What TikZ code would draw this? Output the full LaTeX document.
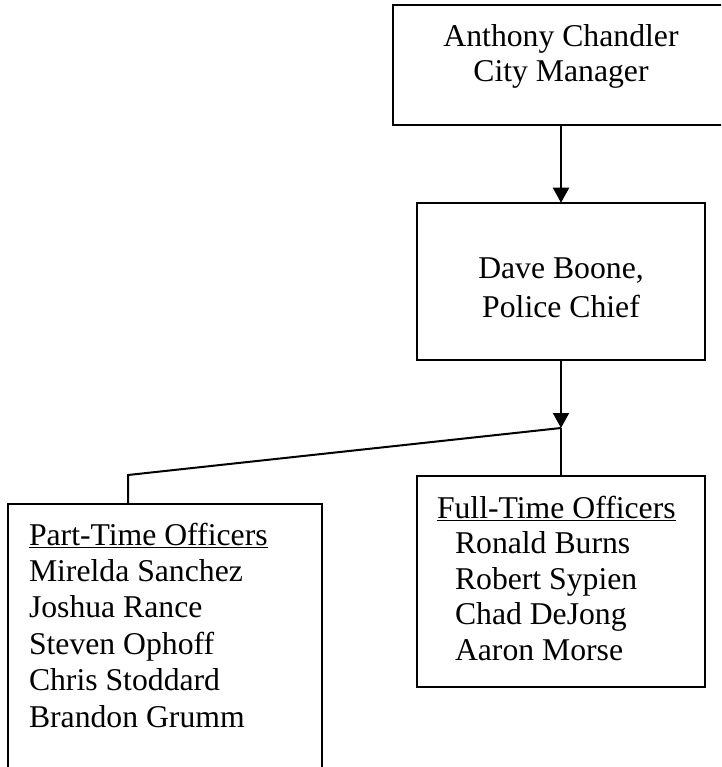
\documentclass[tikz,border=0pt]{standalone}
\usepackage{fontspec}
\setmainfont{Liberation Serif}
\usetikzlibrary{arrows.meta}
\begin{document}
\begin{tikzpicture}[x=1pt,y=-1pt,
  box/.style={draw=black,line width=2pt,inner sep=0pt,outer sep=0pt,fill=white},
  txt/.style={inner sep=0pt,outer sep=0pt,font=\fontsize{31.7}{36}\selectfont},
  link/.style={draw=black,line width=2pt},
  tip/.style={-{Triangle[width=16pt,length=15pt]}}]
\useasboundingbox (0,0) rectangle (721,767);
\clip (0,0) rectangle (721,767);

% boxes
\node[box,minimum width=336pt,minimum height=120pt] (mgr)   at (561,65.5)  {};
\node[box,minimum width=288pt,minimum height=157.5pt] (chief) at (561,281.5) {};
\node[box,minimum width=288pt,minimum height=211pt] (full)  at (561,581.5) {};
\node[box,minimum width=314pt,minimum height=330pt] (part)  at (165,669)   {};

% box texts
\node[txt,anchor=base] (mgrA) at (561,47) {Anthony Chandler};
\node[txt,anchor=base] (mgrB) at (561,82) {City Manager};
\node[txt,anchor=base] (chiefA) at (561,278) {Dave Boone,};
\node[txt,anchor=base] (chiefB) at (561,317) {Police Chief};

\node[txt,anchor=base west] (fthead) at (437,518) {Full-Time Officers};
\draw[line width=1.5pt] ([yshift=-2.5pt]fthead.base west) -- ([yshift=-2.5pt]fthead.base east);
\foreach \name [count=\i] in {Ronald Burns,Robert Sypien,Chad DeJong,Aaron Morse}
  \node[txt,anchor=base west] (ft\i) at (455,{518+35.5*\i}) {\name};

\node[txt,anchor=base west] (pthead) at (29,545) {Part-Time Officers};
\draw[line width=1.5pt] ([yshift=-2.5pt]pthead.base west) -- ([yshift=-2.5pt]pthead.base east);
\foreach \name [count=\i] in {Mirelda Sanchez,Joshua Rance,Steven Ophoff,Chris Stoddard,Brandon Grumm}
  \node[txt,anchor=base west] (pt\i) at (29,{545+36.4*\i}) {\name};

% connectors
\coordinate (junc) at (561,428);
\coordinate (bend) at (128,475);
\draw[link,tip] (mgr.south) -- (chief.north);
\draw[link,tip] (chief.south) -- (junc);
\draw[link] (junc) -- (full.north);
\draw[link,line join=miter] (junc) -- (bend) -- (bend |- part.north);
\end{tikzpicture}
\end{document}
